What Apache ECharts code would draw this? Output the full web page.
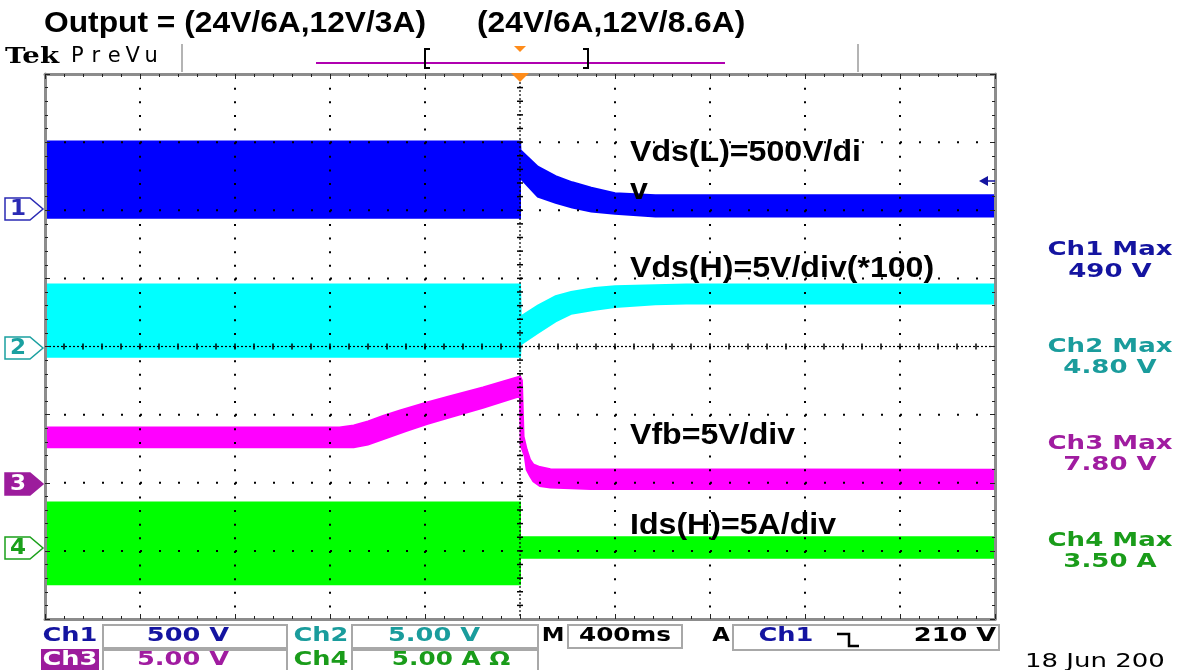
<!DOCTYPE html>
<html><head><meta charset="utf-8">
<script src="https://cdn.jsdelivr.net/npm/echarts@6/dist/echarts.min.js"></script>
<style>html,body{margin:0;padding:0;background:#fff;}#c{width:1185px;height:670px;}</style>
</head><body><div id="c"></div>
<script>
// ---------------- data (time in ms, trigger at 0; 400 ms/div) ----------------
// Ch1 Vds(L) envelope, volts (500 V/div, ground +2 div)
const ch1Upper = [[-2000,505],[0,505],[2,440],[75,320],[150,250],[220,205],[300,165],[400,125],[570,110],[2000,110]];
const ch1Lower = [[-2000,-55],[0,-55],[0,240],[75,100],[150,55],[220,20],[300,-10],[400,-25],[570,-45],[2000,-45]];
// Ch2 Vds(H) envelope, volts (5 V/div, ground 0 div)
const ch2Upper = [[-2000,4.55],[0,4.55],[3,2.2],[75,3.0],[150,3.7],[215,4.0],[315,4.3],[400,4.42],[570,4.5],[700,4.55],[2000,4.55]];
const ch2Lower = [[-2000,-0.75],[0,-0.75],[3,0.15],[75,1.0],[150,1.85],[215,2.4],[315,2.7],[400,2.9],[570,3.1],[700,3.15],[2000,3.15]];
// Ch3 Vfb envelope, volts (5 V/div, ground -2 div)
const ch3Upper = [[-2000,4.05],[-760,4.05],[-700,4.2],[-640,4.5],[-577,4.9],[-505,5.3],[-392,5.9],[-295,6.35],[-156,7.0],[-10,7.75],[0,7.8],[8,7.5],[15,3.4],[28,2.45],[42,1.7],[56,1.35],[84,1.15],[128,1.0],[2000,0.95]];
const ch3Lower = [[-2000,2.6],[-700,2.6],[-640,2.8],[-560,3.3],[-480,3.8],[-392,4.3],[-295,4.8],[-156,5.5],[-10,6.3],[0,6.25],[3,2.75],[20,1.95],[28,0.95],[42,0.5],[56,0.1],[84,-0.25],[128,-0.35],[296,-0.45],[2000,-0.45]];
// Ch4 Ids(H) envelope, amps (5 A/div, ground -3 div)
const ch4Upper = [[-2000,3.55],[0,3.55],[0,1.0],[2000,1.0]];
const ch4Lower = [[-2000,-2.45],[0,-2.45],[0,-0.5],[2000,-0.5]];

// channel scales: [min, max, interval] of each channel axis
const ch1Range = [-3000, 1000, 500];
const ch2Range = [-20, 20, 5];
const ch3Range = [-10, 30, 5];
const ch4Range = [-5, 35, 5];
const timeRange = [-2000, 2000, 400];
const divRange = [-4, 4, 1];
// graticule: major time lines (ms) and major division lines
const timeGrid = [-1600, -1200, -800, -400, 0, 400, 800, 1200, 1600];
const divGrid = [-3, -2, -1, 0, 1, 2, 3];

const titleLeft = 'Output = (24V/6A,12V/3A)';
const titleRight = '(24V/6A,12V/8.6A)';
const notes = ['Vds(L)=500V/di', 'v', 'Vds(H)=5V/div(*100)', 'Vfb=5V/div', 'Ids(H)=5A/div'];
const maxLabels = [['Ch1 Max', '490 V'], ['Ch2 Max', '4.80 V'], ['Ch3 Max', '7.80 V'], ['Ch4 Max', '3.50 A']];
const statusRow1 = ['Ch1', '500 V', 'Ch2', '5.00 V', 'M', '400ms', 'A', 'Ch1', '210 V'];
const statusRow2 = ['Ch3', '5.00 V', 'Ch4', '5.00 A \u03A9'];
const dateText = '18 Jun 200';

// ---------------- styles ----------------
const C1 = '#0000ff', C2 = '#00ffff', C3 = '#ff00ff', C4 = '#00ff00';
const T1 = '#1414a0', T2 = '#1a9c9c', T3 = '#a01ca0', T4 = '#1a9c1a';
const BORDER = '#8c8c8c', DOT = '#000';
const BIG = 'bold 29px "Liberation Sans", Arial, sans-serif';
const NOTE = 'bold 30px "Liberation Sans", Arial, sans-serif';
const TEK = 'bold 19px "DejaVu Sans", sans-serif';
const TEKM = 'bold 20px "DejaVu Sans", sans-serif';

function tAxis(extra) {
  return Object.assign({type:'value', min:timeRange[0], max:timeRange[1], interval:timeRange[2],
    axisLabel:{show:false}, splitLine:{show:false}, minorTick:{show:false}, axisTick:{show:false},
    axisLine:{show:false, onZero:false}, z:5, silent:true}, extra);
}
function dAxis(extra) {
  return Object.assign({type:'value', min:divRange[0], max:divRange[1], interval:divRange[2],
    axisLabel:{show:false}, splitLine:{show:false}, minorTick:{show:false}, axisTick:{show:false},
    axisLine:{show:false, onZero:false}, z:5, silent:true}, extra);
}
function chAxis(r) {
  return {type:'value', show:false, min:r[0], max:r[1], interval:r[2], axisLine:{onZero:false}};
}
const borderLine = {show:true, onZero:false, lineStyle:{color:BORDER, width:3}};
const inTick = {show:true, inside:true, length:5, lineStyle:{color:'#222', width:1}};
const minor = {show:true, splitNumber:5, length:3, lineStyle:{color:'#222', width:1}};

function band(name, yIdx, upper, lower, color) {
  return {
    type:'custom', name:name, xAxisIndex:0, yAxisIndex:yIdx, clip:true, silent:true, z:2,
    data: upper.concat(lower), encode:{x:0, y:1},
    renderItem: function (params, api) {
      if (params.dataIndex !== 0) return null;
      const pts = upper.map(function (p) { return api.coord(p); })
        .concat(lower.slice().reverse().map(function (p) { return api.coord(p); }));
      return {type:'polygon', shape:{points:pts}, style:{fill:color, stroke:color, lineWidth:2}};
    }
  };
}

// dotted graticule and centre cross drawn on top of the traces, through the axes' scales
const graticule = {
  type:'custom', name:'graticule', xAxisIndex:0, yAxisIndex:0, silent:true, z:4, clip:true,
  data: timeGrid.map(function (t) { return [t, 0]; }), encode:{x:0, y:1},
  renderItem: function (params, api) {
    if (params.dataIndex !== 0) return null;
    const kids = [];
    const lineEl = function (a, b, dash, w) {
      return {type:'line', shape:{x1:a[0], y1:a[1], x2:b[0], y2:b[1]},
        style:{stroke:DOT, lineWidth:w, lineDash:dash}};
    };
    timeGrid.forEach(function (t) {
      if (t === 0) return;
      kids.push(lineEl(api.coord([t, divRange[1]]), api.coord([t, divRange[0]]), [2, 11.625], 2));
    });
    divGrid.forEach(function (d) {
      if (d === 0) return;
      kids.push(lineEl(api.coord([timeRange[0], d]), api.coord([timeRange[1], d]), [2, 17], 2));
    });
    // centre cross: fine dotted line with minor ticks every 1/5 division
    kids.push(lineEl(api.coord([timeRange[0], 0]), api.coord([timeRange[1], 0]), [2, 2], 1.2));
    kids.push(lineEl(api.coord([0, divRange[1]]), api.coord([0, divRange[0]]), [2, 2], 1.2));
    const step = timeRange[2] / 5;
    for (let t = timeRange[0] + step; t < timeRange[1]; t += step) {
      const p = api.coord([t, 0]);
      kids.push(lineEl([p[0], p[1] - 3], [p[0], p[1] + 3], null, 1.5));
    }
    for (let d = divRange[0] + 0.2; d < divRange[1] - 0.1; d += 0.2) {
      const p = api.coord([0, d]);
      kids.push(lineEl([p[0] - 3, p[1]], [p[0] + 3, p[1]], null, 1.5));
    }
    return {type:'group', children:kids};
  }
};

function txt(text, x, y, font, fill, align, sx) {
  return {type:'text', x:x, y:y, scaleX:sx || 1, silent:true, z:100,
    style:{text:text, font:font, fill:fill, align:align || 'left', verticalAlign:'middle',
      textAlign:align || 'left', textVerticalAlign:'middle'}};
}
function box(x0, y0, x1, y1) {
  return {type:'rect', silent:true, z:90, shape:{x:x0, y:y0, width:x1 - x0, height:y1 - y0},
    style:{fill:'#fff', stroke:'#a8a8a8', lineWidth:2}};
}
function marker(num, yc, color, filled) {
  return [
    {type:'polygon', silent:true, z:100, shape:{points:[[5,yc-11],[30,yc-11],[43,yc],[30,yc+11],[5,yc+11]]},
      style:{fill: filled ? color : '#fff', stroke:color, lineWidth:1.5}},
    txt(num, 18, yc + 1, 'bold 21px "DejaVu Sans", sans-serif', filled ? '#fff' : color, 'center', 1.1)
  ];
}
function spaced(str, x0, pitch, yc, font, fill) {
  return str.split('').map(function (ch, i) {
    return txt(ch, x0 + pitch * (i + 0.5), yc, font, fill, 'center', 1);
  });
}

const graphics = [].concat(
  [txt(titleLeft, 44, 24, BIG, '#000', 'left', 1.095),
   txt(titleRight, 477, 24, BIG, '#000', 'left', 1.095),
   txt('Tek', 5, 57, 'bold 23px "DejaVu Serif", serif', '#000', 'left', 1.2)],
  spaced('PreVu', 68, 18.5, 57, '21px "DejaVu Sans", sans-serif', '#000'),
  [{type:'line', silent:true, z:100, shape:{x1:182, y1:44, x2:182, y2:72}, style:{stroke:'#b4b4b4', lineWidth:2}},
   {type:'line', silent:true, z:100, shape:{x1:858, y1:44, x2:858, y2:72}, style:{stroke:'#b4b4b4', lineWidth:2}},
   {type:'line', silent:true, z:100, shape:{x1:316, y1:63, x2:725, y2:63}, style:{stroke:'#b000b0', lineWidth:2}},
   {type:'polyline', silent:true, z:101, shape:{points:[[430,49],[425,49],[425,68],[430,68]]}, style:{stroke:'#000', lineWidth:2, fill:null}},
   {type:'polyline', silent:true, z:101, shape:{points:[[583,49],[588,49],[588,68],[583,68]]}, style:{stroke:'#000', lineWidth:2, fill:null}},
   {type:'polygon', silent:true, z:101, shape:{points:[[514,46],[526,46],[520,52]]}, style:{fill:'#ff8c1a'}},
   {type:'polygon', silent:true, z:101, shape:{points:[[511,73],[529,73],[520,82]]}, style:{fill:'#ff8c1a'}},
   {type:'polygon', silent:true, z:101, shape:{points:[[979,181],[988,176],[988,186]]}, style:{fill:T1}},
   {type:'line', silent:true, z:101, shape:{x1:986, y1:181, x2:995, y2:181}, style:{stroke:T1, lineWidth:1.5}}],
  marker('1', 209, '#2a2ab4', false),
  marker('2', 348, '#1aa0a0', false),
  marker('3', 484, '#9c1c9c', true),
  marker('4', 548, '#1aa01a', false),
  [txt(notes[0], 630, 153, NOTE, '#000', 'left', 1.07),
   txt(notes[1], 630, 191, NOTE, '#000', 'left', 1.07),
   txt(notes[2], 630, 269, NOTE, '#000', 'left', 1.07),
   txt(notes[3], 630, 436, NOTE, '#000', 'left', 1.07),
   txt(notes[4], 630, 526, NOTE, '#000', 'left', 1.07)],
  [txt(maxLabels[0][0], 1110, 250, TEKM, T1, 'center', 1.3),
   txt(maxLabels[0][1], 1110, 272, TEKM, T1, 'center', 1.3),
   txt(maxLabels[1][0], 1110, 347, TEKM, T2, 'center', 1.3),
   txt(maxLabels[1][1], 1110, 368, TEKM, T2, 'center', 1.3),
   txt(maxLabels[2][0], 1110, 444, TEKM, T3, 'center', 1.3),
   txt(maxLabels[2][1], 1110, 465, TEKM, T3, 'center', 1.3),
   txt(maxLabels[3][0], 1110, 541, TEKM, T4, 'center', 1.3),
   txt(maxLabels[3][1], 1110, 562, TEKM, T4, 'center', 1.3)],
  [box(103, 625, 287, 648), box(352, 625, 538, 648), box(568, 625, 682, 648), box(733, 625, 999, 650),
   box(103, 650, 287, 674), box(352, 650, 538, 674),
   {type:'rect', silent:true, z:95, shape:{x:41, y:649, width:58, height:22}, style:{fill:'#9c1c9c'}},
   txt(statusRow1[0], 70, 636, TEK, T1, 'center', 1.35),
   txt(statusRow1[1], 188, 636, TEK, T1, 'center', 1.35),
   txt(statusRow1[2], 321, 636, TEK, T2, 'center', 1.35),
   txt(statusRow1[3], 434, 636, TEK, T2, 'center', 1.35),
   txt(statusRow1[4], 553, 636, TEK, '#000', 'center', 1.2),
   txt(statusRow1[5], 625, 636, TEK, '#000', 'center', 1.3),
   txt(statusRow1[6], 721, 636, TEK, '#000', 'center', 1.2),
   txt(statusRow1[7], 786, 636, TEK, T1, 'center', 1.35),
   {type:'polyline', silent:true, z:101, shape:{points:[[837,634],[849,634],[849,646],[859,646]]}, style:{stroke:'#000', lineWidth:2.5, fill:null}},
   txt(statusRow1[8], 955, 636, TEK, '#000', 'center', 1.35),
   txt(statusRow2[0], 70, 660, TEK, '#fff', 'center', 1.35),
   txt(statusRow2[1], 183, 660, TEK, T3, 'center', 1.35),
   txt(statusRow2[2], 321, 660, TEK, T4, 'center', 1.35),
   txt(statusRow2[3], 451, 660, TEK, T4, 'center', 1.3),
   txt(dateText, 1025, 662, '20px "DejaVu Sans", sans-serif', '#000', 'left', 1.3)]
);

const option = {
  animation:false,
  backgroundColor:'#fff',
  grid:{left:45, top:74, width:950, height:545, show:false},
  xAxis:[
    tAxis({position:'bottom', axisLine:borderLine, axisTick:inTick, minorTick:minor}),
    tAxis({position:'top', axisLine:borderLine, axisTick:inTick, minorTick:minor})
  ],
  yAxis:[
    dAxis({position:'left', axisLine:borderLine, axisTick:inTick, minorTick:minor}),
    dAxis({position:'right', axisLine:borderLine, axisTick:inTick, minorTick:minor}),
    chAxis(ch1Range), chAxis(ch2Range), chAxis(ch3Range), chAxis(ch4Range)
  ],
  series:[
    band('Vds(L)', 2, ch1Upper, ch1Lower, C1),
    band('Vds(H)', 3, ch2Upper, ch2Lower, C2),
    band('Vfb', 4, ch3Upper, ch3Lower, C3),
    band('Ids(H)', 5, ch4Upper, ch4Lower, C4),
    graticule
  ],
  graphic:{elements:graphics}
};
const chart = echarts.init(document.getElementById('c'));
chart.setOption(option);
</script>
</body></html>
